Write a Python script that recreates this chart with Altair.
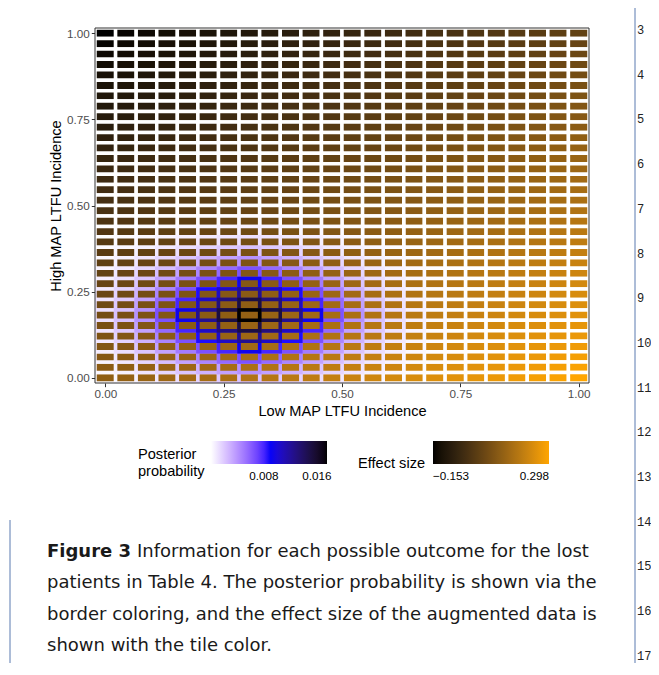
import altair as alt
import pandas as pd

# ---------------- data ----------------
# tile centres along x (Low MAP LTFU incidence), left to right
low_incidence = [0.0, 0.0435, 0.0870, 0.1304, 0.1739, 0.2174, 0.2609, 0.3043,
                 0.3478, 0.3913, 0.4348, 0.4783, 0.5217, 0.5652, 0.6087, 0.6522,
                 0.6957, 0.7391, 0.7826, 0.8261, 0.8696, 0.9130, 0.9565, 1.0]

# tile centres along y (High MAP LTFU incidence), top to bottom
high_incidence = [1.0, 0.9697, 0.9394, 0.9091, 0.8788, 0.8485, 0.8182, 0.7879,
                  0.7576, 0.7273, 0.6970, 0.6667, 0.6364, 0.6061, 0.5758, 0.5455,
                  0.5152, 0.4848, 0.4545, 0.4242, 0.3939, 0.3636, 0.3333, 0.3030,
                  0.2727, 0.2424, 0.2121, 0.1818, 0.1515, 0.1212, 0.0909, 0.0606,
                  0.0303, 0.0]

# effect size (tile fill), one row per high_incidence value (top to bottom)
effect_rows = [
    [-0.153, -0.145, -0.137, -0.129, -0.121, -0.113, -0.105, -0.097, -0.089, -0.081, -0.072, -0.064, -0.056, -0.048, -0.040, -0.032, -0.024, -0.016, -0.008, 0.000, 0.008, 0.016, 0.024, 0.032],
    [-0.145, -0.137, -0.129, -0.121, -0.113, -0.105, -0.097, -0.089, -0.081, -0.072, -0.064, -0.056, -0.048, -0.040, -0.032, -0.024, -0.016, -0.008, 0.000, 0.008, 0.016, 0.024, 0.032, 0.040],
    [-0.137, -0.129, -0.121, -0.113, -0.105, -0.097, -0.089, -0.081, -0.072, -0.064, -0.056, -0.048, -0.040, -0.032, -0.024, -0.016, -0.008, 0.000, 0.008, 0.016, 0.024, 0.032, 0.040, 0.048],
    [-0.129, -0.121, -0.113, -0.105, -0.097, -0.089, -0.081, -0.072, -0.064, -0.056, -0.048, -0.040, -0.032, -0.024, -0.016, -0.008, 0.000, 0.008, 0.016, 0.024, 0.032, 0.040, 0.048, 0.056],
    [-0.121, -0.113, -0.105, -0.097, -0.089, -0.081, -0.072, -0.064, -0.056, -0.048, -0.040, -0.032, -0.024, -0.016, -0.008, 0.000, 0.008, 0.016, 0.024, 0.032, 0.040, 0.048, 0.056, 0.064],
    [-0.113, -0.105, -0.097, -0.089, -0.081, -0.072, -0.064, -0.056, -0.048, -0.040, -0.032, -0.024, -0.016, -0.008, 0.000, 0.008, 0.016, 0.024, 0.032, 0.040, 0.048, 0.056, 0.064, 0.073],
    [-0.105, -0.097, -0.089, -0.081, -0.072, -0.064, -0.056, -0.048, -0.040, -0.032, -0.024, -0.016, -0.008, 0.000, 0.008, 0.016, 0.024, 0.032, 0.040, 0.048, 0.056, 0.064, 0.073, 0.081],
    [-0.097, -0.089, -0.081, -0.072, -0.064, -0.056, -0.048, -0.040, -0.032, -0.024, -0.016, -0.008, 0.000, 0.008, 0.016, 0.024, 0.032, 0.040, 0.048, 0.056, 0.064, 0.073, 0.081, 0.089],
    [-0.089, -0.081, -0.072, -0.064, -0.056, -0.048, -0.040, -0.032, -0.024, -0.016, -0.008, 0.000, 0.008, 0.016, 0.024, 0.032, 0.040, 0.048, 0.056, 0.064, 0.073, 0.081, 0.089, 0.097],
    [-0.081, -0.072, -0.064, -0.056, -0.048, -0.040, -0.032, -0.024, -0.016, -0.008, 0.000, 0.008, 0.016, 0.024, 0.032, 0.040, 0.048, 0.056, 0.064, 0.073, 0.081, 0.089, 0.097, 0.105],
    [-0.072, -0.064, -0.056, -0.048, -0.040, -0.032, -0.024, -0.016, -0.008, 0.000, 0.008, 0.016, 0.024, 0.032, 0.040, 0.048, 0.056, 0.064, 0.073, 0.081, 0.089, 0.097, 0.105, 0.113],
    [-0.064, -0.056, -0.048, -0.040, -0.032, -0.024, -0.016, -0.008, 0.000, 0.008, 0.016, 0.024, 0.032, 0.040, 0.048, 0.056, 0.064, 0.073, 0.081, 0.089, 0.097, 0.105, 0.113, 0.121],
    [-0.056, -0.048, -0.040, -0.032, -0.024, -0.016, -0.008, 0.000, 0.008, 0.016, 0.024, 0.032, 0.040, 0.048, 0.056, 0.064, 0.073, 0.081, 0.089, 0.097, 0.105, 0.113, 0.121, 0.129],
    [-0.048, -0.040, -0.032, -0.024, -0.016, -0.008, 0.000, 0.008, 0.016, 0.024, 0.032, 0.040, 0.048, 0.056, 0.064, 0.073, 0.081, 0.089, 0.097, 0.105, 0.113, 0.121, 0.129, 0.137],
    [-0.040, -0.032, -0.024, -0.016, -0.008, 0.000, 0.008, 0.016, 0.024, 0.032, 0.040, 0.048, 0.056, 0.064, 0.073, 0.081, 0.089, 0.097, 0.105, 0.113, 0.121, 0.129, 0.137, 0.145],
    [-0.032, -0.024, -0.016, -0.008, 0.000, 0.008, 0.016, 0.024, 0.032, 0.040, 0.048, 0.056, 0.064, 0.073, 0.081, 0.089, 0.097, 0.105, 0.113, 0.121, 0.129, 0.137, 0.145, 0.153],
    [-0.024, -0.016, -0.008, 0.000, 0.008, 0.016, 0.024, 0.032, 0.040, 0.048, 0.056, 0.064, 0.073, 0.081, 0.089, 0.097, 0.105, 0.113, 0.121, 0.129, 0.137, 0.145, 0.153, 0.161],
    [-0.016, -0.008, 0.000, 0.008, 0.016, 0.024, 0.032, 0.040, 0.048, 0.056, 0.064, 0.073, 0.081, 0.089, 0.097, 0.105, 0.113, 0.121, 0.129, 0.137, 0.145, 0.153, 0.161, 0.169],
    [-0.008, 0.000, 0.008, 0.016, 0.024, 0.032, 0.040, 0.048, 0.056, 0.064, 0.073, 0.081, 0.089, 0.097, 0.105, 0.113, 0.121, 0.129, 0.137, 0.145, 0.153, 0.161, 0.169, 0.177],
    [0.000, 0.008, 0.016, 0.024, 0.032, 0.040, 0.048, 0.056, 0.064, 0.073, 0.081, 0.089, 0.097, 0.105, 0.113, 0.121, 0.129, 0.137, 0.145, 0.153, 0.161, 0.169, 0.177, 0.185],
    [0.008, 0.016, 0.024, 0.032, 0.040, 0.048, 0.056, 0.064, 0.073, 0.081, 0.089, 0.097, 0.105, 0.113, 0.121, 0.129, 0.137, 0.145, 0.153, 0.161, 0.169, 0.177, 0.185, 0.193],
    [0.016, 0.024, 0.032, 0.040, 0.048, 0.056, 0.064, 0.073, 0.081, 0.089, 0.097, 0.105, 0.113, 0.121, 0.129, 0.137, 0.145, 0.153, 0.161, 0.169, 0.177, 0.185, 0.193, 0.201],
    [0.024, 0.032, 0.040, 0.048, 0.056, 0.064, 0.073, 0.081, 0.089, 0.097, 0.105, 0.113, 0.121, 0.129, 0.137, 0.145, 0.153, 0.161, 0.169, 0.177, 0.185, 0.193, 0.201, 0.209],
    [0.032, 0.040, 0.048, 0.056, 0.064, 0.073, 0.081, 0.089, 0.097, 0.105, 0.113, 0.121, 0.129, 0.137, 0.145, 0.153, 0.161, 0.169, 0.177, 0.185, 0.193, 0.201, 0.209, 0.217],
    [0.040, 0.048, 0.056, 0.064, 0.073, 0.081, 0.089, 0.097, 0.105, 0.113, 0.121, 0.129, 0.137, 0.145, 0.153, 0.161, 0.169, 0.177, 0.185, 0.193, 0.201, 0.209, 0.217, 0.226],
    [0.048, 0.056, 0.064, 0.073, 0.081, 0.089, 0.097, 0.105, 0.113, 0.121, 0.129, 0.137, 0.145, 0.153, 0.161, 0.169, 0.177, 0.185, 0.193, 0.201, 0.209, 0.217, 0.226, 0.234],
    [0.056, 0.064, 0.073, 0.081, 0.089, 0.097, 0.105, 0.113, 0.121, 0.129, 0.137, 0.145, 0.153, 0.161, 0.169, 0.177, 0.185, 0.193, 0.201, 0.209, 0.217, 0.226, 0.234, 0.242],
    [0.064, 0.073, 0.081, 0.089, 0.097, 0.105, 0.113, 0.121, 0.129, 0.137, 0.145, 0.153, 0.161, 0.169, 0.177, 0.185, 0.193, 0.201, 0.209, 0.217, 0.226, 0.234, 0.242, 0.250],
    [0.073, 0.081, 0.089, 0.097, 0.105, 0.113, 0.121, 0.129, 0.137, 0.145, 0.153, 0.161, 0.169, 0.177, 0.185, 0.193, 0.201, 0.209, 0.217, 0.226, 0.234, 0.242, 0.250, 0.258],
    [0.081, 0.089, 0.097, 0.105, 0.113, 0.121, 0.129, 0.137, 0.145, 0.153, 0.161, 0.169, 0.177, 0.185, 0.193, 0.201, 0.209, 0.217, 0.226, 0.234, 0.242, 0.250, 0.258, 0.266],
    [0.089, 0.097, 0.105, 0.113, 0.121, 0.129, 0.137, 0.145, 0.153, 0.161, 0.169, 0.177, 0.185, 0.193, 0.201, 0.209, 0.217, 0.226, 0.234, 0.242, 0.250, 0.258, 0.266, 0.274],
    [0.097, 0.105, 0.113, 0.121, 0.129, 0.137, 0.145, 0.153, 0.161, 0.169, 0.177, 0.185, 0.193, 0.201, 0.209, 0.217, 0.226, 0.234, 0.242, 0.250, 0.258, 0.266, 0.274, 0.282],
    [0.105, 0.113, 0.121, 0.129, 0.137, 0.145, 0.153, 0.161, 0.169, 0.177, 0.185, 0.193, 0.201, 0.209, 0.217, 0.226, 0.234, 0.242, 0.250, 0.258, 0.266, 0.274, 0.282, 0.290],
    [0.113, 0.121, 0.129, 0.137, 0.145, 0.153, 0.161, 0.169, 0.177, 0.185, 0.193, 0.201, 0.209, 0.217, 0.226, 0.234, 0.242, 0.250, 0.258, 0.266, 0.274, 0.282, 0.290, 0.298],
]

# posterior probability (tile border), one row per high_incidence value (top to bottom)
posterior_rows = [
    [0, 0, 0, 0, 0, 0, 0, 0, 0, 0, 0, 0, 0, 0, 0, 0, 0, 0, 0, 0, 0, 0, 0, 0],
    [0, 0, 0, 0, 0, 0, 0, 0, 0, 0, 0, 0, 0, 0, 0, 0, 0, 0, 0, 0, 0, 0, 0, 0],
    [0, 0, 0, 0, 0, 0, 0, 0, 0, 0, 0, 0, 0, 0, 0, 0, 0, 0, 0, 0, 0, 0, 0, 0],
    [0, 0, 0, 0, 0, 0, 0, 0, 0, 0, 0, 0, 0, 0, 0, 0, 0, 0, 0, 0, 0, 0, 0, 0],
    [0, 0, 0, 0, 0, 0, 0, 0, 0, 0, 0, 0, 0, 0, 0, 0, 0, 0, 0, 0, 0, 0, 0, 0],
    [0, 0, 0, 0, 0, 0, 0, 0, 0, 0, 0, 0, 0, 0, 0, 0, 0, 0, 0, 0, 0, 0, 0, 0],
    [0, 0, 0, 0, 0, 0, 0, 0, 0, 0, 0, 0, 0, 0, 0, 0, 0, 0, 0, 0, 0, 0, 0, 0],
    [0, 0, 0, 0, 0, 0, 0, 0, 0, 0, 0, 0, 0, 0, 0, 0, 0, 0, 0, 0, 0, 0, 0, 0],
    [0, 0, 0, 0, 0, 0, 0, 0, 0, 0, 0, 0, 0, 0, 0, 0, 0, 0, 0, 0, 0, 0, 0, 0],
    [0, 0, 0, 0, 0, 0, 0, 0, 0, 0, 0, 0, 0, 0, 0, 0, 0, 0, 0, 0, 0, 0, 0, 0],
    [0, 0, 0, 0, 0, 0, 0, 0, 0, 0, 0, 0, 0, 0, 0, 0, 0, 0, 0, 0, 0, 0, 0, 0],
    [0, 0, 0, 0, 0, 0, 0, 0, 0, 0, 0, 0, 0, 0, 0, 0, 0, 0, 0, 0, 0, 0, 0, 0],
    [0, 0, 0, 0, 0, 0, 0, 0, 0, 0, 0, 0, 0, 0, 0, 0, 0, 0, 0, 0, 0, 0, 0, 0],
    [0, 0, 0, 0, 0, 0, 0, 0, 0, 0, 0, 0, 0, 0, 0, 0, 0, 0, 0, 0, 0, 0, 0, 0],
    [0, 0, 0, 0, 0, 0, 0, 0, 0, 0, 0, 0, 0, 0, 0, 0, 0, 0, 0, 0, 0, 0, 0, 0],
    [0, 0, 0, 0, 0, 0, 0, 0, 0, 0, 0, 0, 0, 0, 0, 0, 0, 0, 0, 0, 0, 0, 0, 0],
    [0, 0, 0, 0, 0, 0, 0, 0, 0, 0, 0, 0, 0, 0, 0, 0, 0, 0, 0, 0, 0, 0, 0, 0],
    [0, 0.00001, 0.00001, 0.00002, 0.00003, 0.00004, 0.00005, 0.00005, 0.00005, 0.00004, 0.00003, 0.00002, 0.00001, 0.00001, 0, 0, 0, 0, 0, 0, 0, 0, 0, 0],
    [0.00001, 0.00002, 0.00004, 0.00006, 0.00009, 0.00012, 0.00015, 0.00018, 0.00015, 0.00012, 0.00009, 0.00006, 0.00004, 0.00002, 0.00001, 0, 0, 0, 0, 0, 0, 0, 0, 0],
    [0.00003, 0.00006, 0.00011, 0.00018, 0.00026, 0.00034, 0.00042, 0.00049, 0.00042, 0.00034, 0.00026, 0.00018, 0.00011, 0.00006, 0.00003, 0.00001, 0, 0, 0, 0, 0, 0, 0, 0],
    [0.00007, 0.00015, 0.00026, 0.00042, 0.00060, 0.00080, 0.00098, 0.00114, 0.00098, 0.00080, 0.00060, 0.00042, 0.00026, 0.00015, 0.00007, 0.00003, 0.00001, 0, 0, 0, 0, 0, 0, 0],
    [0.00015, 0.00030, 0.00052, 0.00084, 0.00121, 0.00159, 0.00196, 0.00228, 0.00196, 0.00159, 0.00121, 0.00084, 0.00052, 0.00030, 0.00015, 0.00006, 0.00002, 0.00001, 0, 0, 0, 0, 0, 0],
    [0.00026, 0.00052, 0.00093, 0.00149, 0.00213, 0.00282, 0.00346, 0.00403, 0.00346, 0.00282, 0.00213, 0.00149, 0.00093, 0.00052, 0.00026, 0.00011, 0.00004, 0.00001, 0, 0, 0, 0, 0, 0],
    [0.00042, 0.00084, 0.00149, 0.00240, 0.00343, 0.00454, 0.00557, 0.00648, 0.00557, 0.00454, 0.00343, 0.00240, 0.00149, 0.00084, 0.00042, 0.00018, 0.00006, 0.00002, 0, 0, 0, 0, 0, 0],
    [0.00060, 0.00121, 0.00213, 0.00343, 0.00492, 0.00650, 0.00798, 0.00928, 0.00798, 0.00650, 0.00492, 0.00343, 0.00213, 0.00121, 0.00060, 0.00026, 0.00009, 0.00003, 0, 0, 0, 0, 0, 0],
    [0.00080, 0.00159, 0.00282, 0.00454, 0.00650, 0.00858, 0.01054, 0.01226, 0.01054, 0.00858, 0.00650, 0.00454, 0.00282, 0.00159, 0.00080, 0.00034, 0.00012, 0.00004, 0, 0, 0, 0, 0, 0],
    [0.00098, 0.00196, 0.00346, 0.00557, 0.00798, 0.01054, 0.01295, 0.01506, 0.01295, 0.01054, 0.00798, 0.00557, 0.00346, 0.00196, 0.00098, 0.00042, 0.00015, 0.00005, 0, 0, 0, 0, 0, 0],
    [0.00114, 0.00228, 0.00403, 0.00648, 0.00928, 0.01226, 0.01506, 0.01751, 0.01506, 0.01226, 0.00928, 0.00648, 0.00403, 0.00228, 0.00114, 0.00049, 0.00018, 0.00005, 0, 0, 0, 0, 0, 0],
    [0.00098, 0.00196, 0.00346, 0.00557, 0.00798, 0.01054, 0.01295, 0.01506, 0.01295, 0.01054, 0.00798, 0.00557, 0.00346, 0.00196, 0.00098, 0.00042, 0.00015, 0.00005, 0, 0, 0, 0, 0, 0],
    [0.00080, 0.00159, 0.00282, 0.00454, 0.00650, 0.00858, 0.01054, 0.01226, 0.01054, 0.00858, 0.00650, 0.00454, 0.00282, 0.00159, 0.00080, 0.00034, 0.00012, 0.00004, 0, 0, 0, 0, 0, 0],
    [0.00060, 0.00121, 0.00213, 0.00343, 0.00492, 0.00650, 0.00798, 0.00928, 0.00798, 0.00650, 0.00492, 0.00343, 0.00213, 0.00121, 0.00060, 0.00026, 0.00009, 0.00003, 0, 0, 0, 0, 0, 0],
    [0.00042, 0.00084, 0.00149, 0.00240, 0.00343, 0.00454, 0.00557, 0.00648, 0.00557, 0.00454, 0.00343, 0.00240, 0.00149, 0.00084, 0.00042, 0.00018, 0.00006, 0.00002, 0, 0, 0, 0, 0, 0],
    [0.00026, 0.00052, 0.00093, 0.00149, 0.00213, 0.00282, 0.00346, 0.00403, 0.00346, 0.00282, 0.00213, 0.00149, 0.00093, 0.00052, 0.00026, 0.00011, 0.00004, 0.00001, 0, 0, 0, 0, 0, 0],
    [0.00015, 0.00030, 0.00052, 0.00084, 0.00121, 0.00159, 0.00196, 0.00228, 0.00196, 0.00159, 0.00121, 0.00084, 0.00052, 0.00030, 0.00015, 0.00006, 0.00002, 0.00001, 0, 0, 0, 0, 0, 0],
]

x_ticks = [0.0, 0.25, 0.5, 0.75, 1.0]
posterior_legend_values = [0.008, 0.016]
effect_legend_values = [-0.153, 0.298]

caption_bold = "Figure 3"
caption_lines = [
    "Information for each possible outcome for the lost",
    "patients in Table 4. The posterior probability is shown via the",
    "border coloring, and the effect size of the augmented data is",
    "shown with the tile color.",
]
line_numbers = ["3", "4", "5", "6", "7", "8", "9", "10", "11", "12",
                "13", "14", "15", "16", "17"]

# ---------------- build table ----------------
assert len(effect_rows) == len(high_incidence) == len(posterior_rows)
records = []
for yi, hv in enumerate(high_incidence):
    assert len(effect_rows[yi]) == len(low_incidence), yi
    assert len(posterior_rows[yi]) == len(low_incidence), yi
    for xi, lv in enumerate(low_incidence):
        records.append({"low": lv, "high": hv,
                        "effect": effect_rows[yi][xi],
                        "posterior": posterior_rows[yi][xi]})
tiles_df = pd.DataFrame(records).sort_values("posterior", kind="stable").reset_index(drop=True)

# ---------------- layout constants ----------------
W, H = 494, 355
FONT = "Liberation Sans"
CAP_FONT = "DejaVu Sans"
CAP_SIZE = 18
HALF_X, HALF_Y = 0.021739, 0.015152

x_scale = alt.Scale(domain=[-HALF_X, 1 + HALF_X], nice=False, zero=False)
y_scale = alt.Scale(domain=[-HALF_Y, 1 + HALF_Y], nice=False, zero=False)

axis_common = dict(values=x_ticks, format=".2f", grid=False, domain=False,
                   tickSize=3.7, tickColor="#333333", tickWidth=1,
                   labelFontSize=11.7, labelColor="#4D4D4D", labelPadding=2,
                   labelFont=FONT, labelFlush=False,
                   titleFont=FONT, titleFontSize=14.6, titleFontWeight="normal",
                   titleColor="black", titlePadding=3)

legend_common = dict(orient="none", direction="horizontal", titleOrient="left",
                     titleAnchor="end",
                     gradientLength=116, gradientThickness=23, gradientStrokeWidth=0,
                     format=".3f", labelAlign="center", labelFontSize=11.7,
                     labelColor="black", labelFont=FONT, labelOffset=7,
                     titleFont=FONT, titleFontSize=14.6, titleFontWeight="normal",
                     titleColor="black", titleLineHeight=17, padding=0)

tiles = alt.Chart(tiles_df).transform_calculate(
    x_lo=f"datum.low - {HALF_X}", x_hi=f"datum.low + {HALF_X}",
    y_lo=f"datum.high - {HALF_Y}", y_hi=f"datum.high + {HALF_Y}",
).mark_rect(strokeWidth=3.5, clip=True).encode(
    x=alt.X("x_lo:Q", scale=x_scale, axis=alt.Axis(title="Low MAP LTFU Incidence", **axis_common)),
    x2="x_hi:Q",
    y=alt.Y("y_lo:Q", scale=y_scale, axis=alt.Axis(title="High MAP LTFU Incidence", **axis_common)),
    y2="y_hi:Q",
    fill=alt.Fill("effect:Q",
                  scale=alt.Scale(domain=[-0.153, 0.298], range=["black", "orange"], interpolate="lab"),
                  legend=alt.Legend(title="Effect size", legendX=263, legendY=413,
                                    titleBaseline="middle",
                                    values=effect_legend_values, titlePadding=7, **legend_common)),
    stroke=alt.Stroke("posterior:Q",
                      scale=alt.Scale(domain=[0, 0.008755, 0.01751], range=["white", "blue", "black"],
                                      interpolate="lab"),
                      legend=alt.Legend(title=["Posterior", "probability"], legendX=43, legendY=413,
                                        titleBaseline="top",
                                        values=posterior_legend_values, titlePadding=6, **legend_common)),
)

one = pd.DataFrame({"v": [0]})
frame = alt.Chart(one).mark_rect(filled=False, stroke="#333333", strokeWidth=1).encode(
    x=alt.value(0), x2=alt.value(W), y=alt.value(0), y2=alt.value(H))

layers = [tiles, frame]

# caption
layers.append(alt.Chart(pd.DataFrame({"t": [caption_bold]})).mark_text(
    align="left", baseline="middle", font=CAP_FONT, fontSize=CAP_SIZE, fontWeight="bold", color="#1a1a1a"
).encode(text="t:N", x=alt.value(-48), y=alt.value(524)))
cap_x = [42, -48, -48, -48]
cap_y = [524, 555, 587, 618]
for i, line in enumerate(caption_lines):
    layers.append(alt.Chart(pd.DataFrame({"t": [line]})).mark_text(
        align="left", baseline="middle", font=CAP_FONT, fontSize=CAP_SIZE, color="#1a1a1a"
    ).encode(text="t:N", x=alt.value(cap_x[i]), y=alt.value(cap_y[i])))

# page line numbers
for i, lab in enumerate(line_numbers):
    layers.append(alt.Chart(pd.DataFrame({"t": [lab]})).mark_text(
        align="left", baseline="middle", font="Liberation Mono", fontSize=12, color="#222222"
    ).encode(text="t:N", x=alt.value(542), y=alt.value(2 + 44.7 * i)))

# page frame lines
layers.append(alt.Chart(one).mark_rule(color="#5a7bb0", strokeWidth=1).encode(
    x=alt.value(540), y=alt.value(-20), y2=alt.value(635)))
layers.append(alt.Chart(one).mark_rule(color="#5a7bb0", strokeWidth=1).encode(
    x=alt.value(-85), y=alt.value(492), y2=alt.value(635)))

chart = alt.layer(*layers).properties(
    width=W, height=H,
    autosize=alt.AutoSizeParams(type="none"),
    padding={"left": 87, "top": 20, "right": 62, "bottom": 280},
).configure(font=FONT).configure_view(stroke=None)

chart.save("out.html", embed_options={"renderer": "svg", "actions": False})
